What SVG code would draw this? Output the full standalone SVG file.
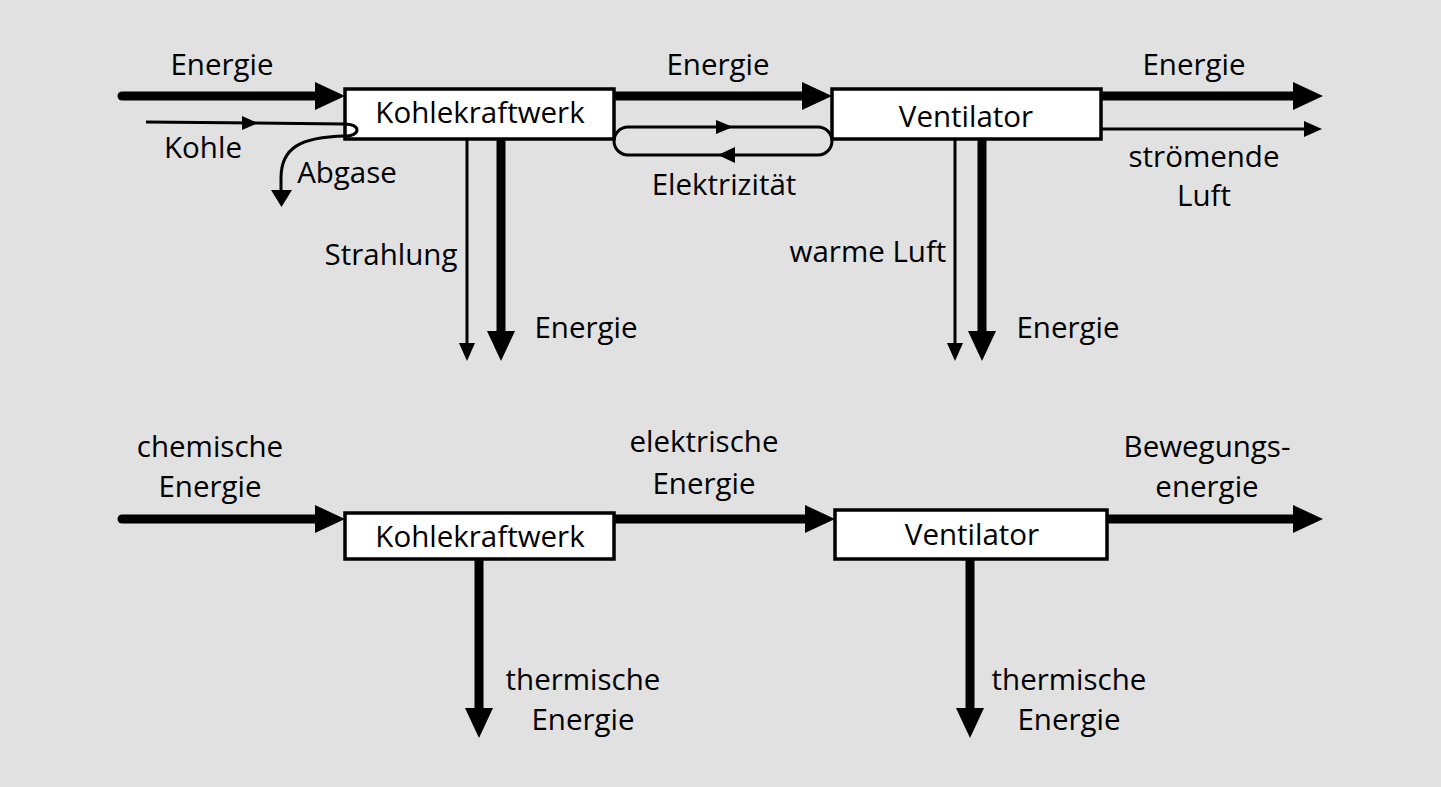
<svg xmlns="http://www.w3.org/2000/svg" width="1441" height="787" viewBox="0 0 1441 787">
<style>
text{font-family:"Open Sans","Noto Sans","Liberation Sans",sans-serif;font-size:29.5px;fill:#000;text-anchor:middle}
.box{fill:#fff;stroke:#000;stroke-width:3.5}
.thick{stroke:#000;stroke-width:9;fill:none}
.thin{stroke:#000;stroke-width:3;fill:none}
</style>
<defs>
<marker id="bigHead" markerUnits="userSpaceOnUse" markerWidth="30" markerHeight="28" refX="0" refY="14" orient="auto" viewBox="0 0 30 28">
<path d="M0,0 L30,14 L0,28 z" fill="#000"/>
</marker>
<marker id="smallHead" markerUnits="userSpaceOnUse" markerWidth="18" markerHeight="16" refX="0" refY="8" orient="auto" viewBox="0 0 18 16">
<path d="M0,0 L18,8 L0,16 z" fill="#000"/>
</marker>
</defs>
<rect x="0" y="0" width="1441" height="787" fill="#e1e1e1"/>

<g id="kohlekraftwerk-top">
<rect class="box" x="345" y="89" width="269" height="50"/>
<text x="480" y="123">Kohlekraftwerk</text>
</g>
<g id="ventilator-top">
<rect class="box" x="832" y="89" width="269" height="50"/>
<text x="966" y="127">Ventilator</text>
</g>
<g id="kohlekraftwerk-bottom">
<rect class="box" x="345" y="513" width="269" height="46"/>
<text x="480" y="547">Kohlekraftwerk</text>
</g>
<g id="ventilator-bottom">
<rect class="box" x="835" y="510" width="272" height="49"/>
<text x="972" y="545">Ventilator</text>
</g>

<g id="connectors">
<!-- top row -->
<line class="thick" x1="122" y1="96" x2="315" y2="96" stroke-linecap="round" marker-end="url(#bigHead)"/>
<line class="thick" x1="614" y1="96" x2="802" y2="96" marker-end="url(#bigHead)"/>
<line class="thick" x1="1101" y1="96" x2="1293" y2="96" marker-end="url(#bigHead)"/>
<line class="thin" x1="1101" y1="129" x2="1304" y2="129" marker-end="url(#smallHead)"/>
<!-- Kohle / Abgase -->
<path class="thin" d="M146,122 L345,124 C352,124 357,126.5 357,130 C357,133.5 352,136 345,136 C300,137 281,148 281,178 L281,190"/>
<polygon points="242,116 258,123 242,130" fill="#000"/>
<polygon points="271,190 292,190 281.5,207" fill="#000"/>
<!-- Elektrizitaet loop -->
<rect class="thin" x="614" y="127" width="218" height="28" rx="14" ry="14"/>
<polygon points="716,120 733,127 716,134" fill="#000"/>
<polygon points="735,147 718,155 735,163" fill="#000"/>
<!-- down arrows top -->
<line class="thin" x1="467" y1="139" x2="467" y2="343" marker-end="url(#smallHead)"/>
<line class="thick" x1="501" y1="139" x2="501" y2="331" stroke-width="8.5" marker-end="url(#bigHead)"/>
<line class="thin" x1="955" y1="139" x2="955" y2="343" marker-end="url(#smallHead)"/>
<line class="thick" x1="982" y1="139" x2="982" y2="331" stroke-width="8.5" marker-end="url(#bigHead)"/>
<!-- bottom row -->
<line class="thick" x1="122" y1="519" x2="315" y2="519" stroke-linecap="round" marker-end="url(#bigHead)"/>
<line class="thick" x1="614" y1="519" x2="805" y2="519" marker-end="url(#bigHead)"/>
<line class="thick" x1="1107" y1="519" x2="1293" y2="519" marker-end="url(#bigHead)"/>
<line class="thick" x1="479" y1="559" x2="479" y2="708" stroke-width="8.5" marker-end="url(#bigHead)"/>
<line class="thick" x1="970" y1="559" x2="970" y2="708" stroke-width="8.5" marker-end="url(#bigHead)"/>
</g>

<g id="labels">
<text x="222" y="75">Energie</text>
<text x="718" y="75">Energie</text>
<text x="1194" y="75">Energie</text>
<text x="203" y="158">Kohle</text>
<text x="347" y="183">Abgase</text>
<text x="724" y="195">Elektrizität</text>
<text x="1204" y="167">strömende</text>
<text x="1204" y="206">Luft</text>
<text x="391" y="265">Strahlung</text>
<text x="586" y="338">Energie</text>
<text x="868" y="262">warme Luft</text>
<text x="1068" y="338">Energie</text>
<text x="210" y="457">chemische</text>
<text x="210" y="497">Energie</text>
<text x="704" y="452">elektrische</text>
<text x="704" y="494">Energie</text>
<text x="1207" y="457">Bewegungs-</text>
<text x="1207" y="497">energie</text>
<text x="583" y="690">thermische</text>
<text x="583" y="730">Energie</text>
<text x="1069" y="690">thermische</text>
<text x="1069" y="730">Energie</text>
</g>
</svg>
